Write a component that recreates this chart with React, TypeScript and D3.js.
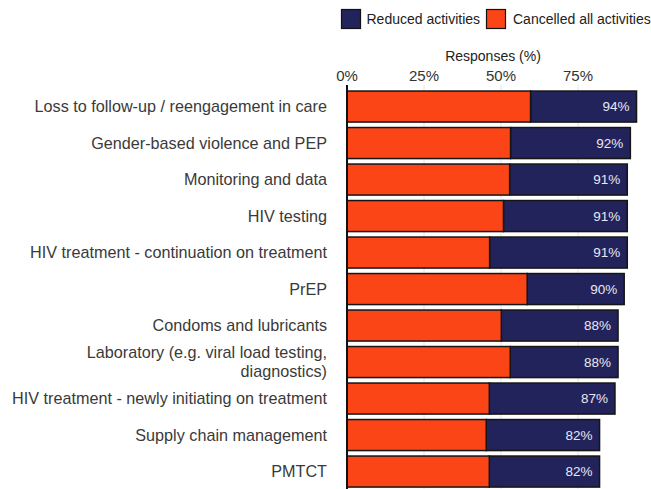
import * as d3 from "d3";

const categories = [
  "Loss to follow-up / reengagement in care",
  "Gender-based violence and PEP",
  "Monitoring and data",
  "HIV testing",
  "HIV treatment - continuation on treatment",
  "PrEP",
  "Condoms and lubricants",
  "Laboratory (e.g. viral load testing,|diagnostics)",
  "HIV treatment - newly initiating on treatment",
  "Supply chain management",
  "PMTCT",
];
const totals = [94, 92, 91, 91, 91, 90, 88, 88, 87, 82, 82];
const cancelled = [59.6, 53.1, 52.8, 50.8, 46.3, 58.5, 50.1, 53, 46.2, 45.2, 46.2];
const ticks = [0, 25, 50, 75];

const NAVY = "#23235b";
const ORANGE = "#fc4516";
const FONT = "'Liberation Sans', Arial, sans-serif";

export default function App() {
  const width = 651;
  const height = 489;
  const x = d3.scaleLinear().domain([0, 100]).range([347, 655]);
  const y = d3
    .scaleBand<number>()
    .domain(d3.range(categories.length))
    .range([88.3, 489.8])
    .paddingInner(0.15)
    .paddingOuter(0.075);

  return (
    <svg
      width={width}
      height={height}
      style={{ position: "absolute", left: 0, top: 0, background: "#fff" }}
      fontFamily={FONT}
    >
      {/* legend */}
      <rect x={341.5} y={9.5} width={19} height={19} fill={NAVY} stroke="#111" strokeWidth={1.2} />
      <text x={366.5} y={24} fontSize={14} fill="#222">Reduced activities</text>
      <rect x={486.5} y={9.5} width={19} height={19} fill={ORANGE} stroke="#111" strokeWidth={1.2} />
      <text x={513} y={24} fontSize={14} fill="#222">Cancelled all activities</text>

      {/* axis title + ticks */}
      <text x={493} y={61} fontSize={14} textAnchor="middle" fill="#222">Responses (%)</text>
      {ticks.map((t) => (
        <g key={t}>
          <text x={x(t)} y={80.5} fontSize={15} textAnchor="middle" fill="#333">{t}%</text>
          {t > 0 && (
            <line x1={x(t)} x2={x(t)} y1={85} y2={height} stroke="#e4e4e4" strokeWidth={1} />
          )}
        </g>
      ))}

      {/* bars */}
      {categories.map((c, i) => {
        const y0 = y(i)!;
        const bh = y.bandwidth();
        const lines = c.split("|");
        const cy = y0 + bh / 2;
        return (
          <g key={c}>
            <rect
              x={x(cancelled[i])}
              y={y0}
              width={x(totals[i]) - x(cancelled[i])}
              height={bh}
              fill={NAVY}
              stroke="#151515"
              strokeWidth={1.5}
            />
            <rect
              x={x(0)}
              y={y0}
              width={x(cancelled[i]) - x(0)}
              height={bh}
              fill={ORANGE}
              stroke="#151515"
              strokeWidth={1.5}
            />
            <text
              x={x(totals[i]) - 7}
              y={cy}
              dy="0.35em"
              fontSize={13.5}
              textAnchor="end"
              fill="#e8e8f2"
            >
              {totals[i]}%
            </text>
            {lines.map((l, k) => (
              <text
                key={k}
                x={327}
                y={cy + (k - (lines.length - 1) / 2) * 19}
                dy="0.35em"
                fontSize={16.2}
                textAnchor="end"
                fill="#3a3a3a"
              >
                {l}
              </text>
            ))}
          </g>
        );
      })}

      {/* y axis line */}
      <line x1={x(0)} x2={x(0)} y1={85} y2={height} stroke="#111" strokeWidth={2} />
    </svg>
  );
}
